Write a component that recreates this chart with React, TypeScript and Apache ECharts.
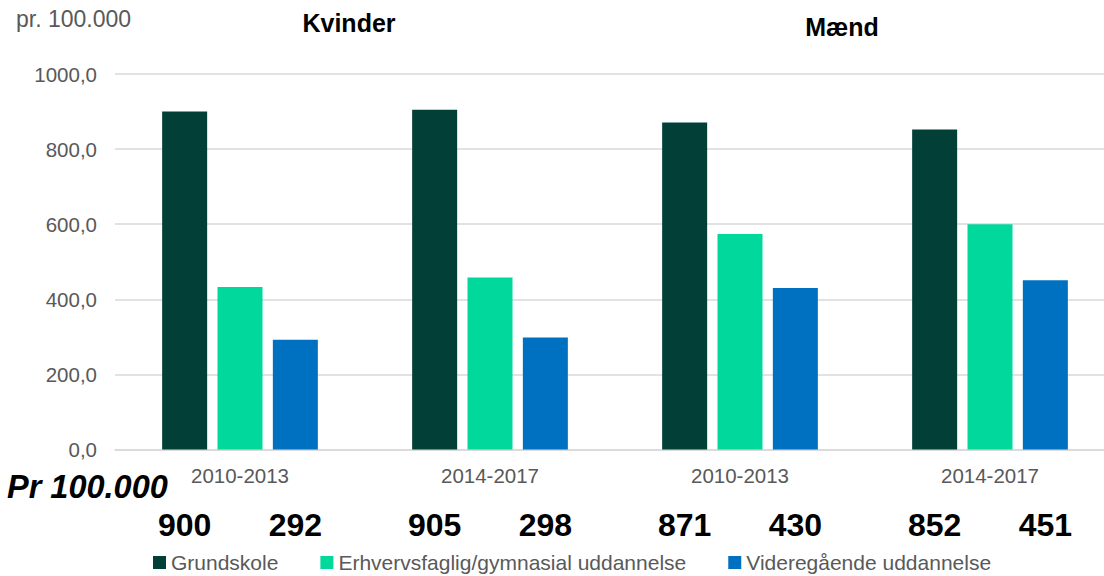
import React, { useEffect, useRef } from "react";
import * as echarts from "echarts";

const categories = ["2010-2013", "2014-2017", "2010-2013", "2014-2017"];
const seriesNames = ["Grundskole", "Erhvervsfaglig/gymnasial uddannelse", "Videregående uddannelse"];
const grundskole = [900, 905, 871, 852];
const erhvervsfaglig = [433, 458, 574, 600];
const videregaaende = [292, 298, 430, 451];
const colors = ["#023F36", "#00D89C", "#0070C0"];
const groupTitles = ["Kvinder", "Mænd"];
const unitTop = "pr. 100.000";
const unitBottom = "Pr 100.000";

const FONT = "'Liberation Sans', Arial, sans-serif";

export default function App() {
  const ref = useRef<HTMLDivElement>(null);
  useEffect(() => {
    if (!ref.current) return;
    const chart = echarts.init(ref.current, null, { renderer: "svg" });
    const numberLabel = {
      show: true,
      position: ["50%", "100%"],
      offset: [0, 75.5],
      align: "center",
      verticalAlign: "middle",
      fontFamily: FONT,
      fontSize: 32,
      fontWeight: "bold",
      color: "#000000",
      formatter: (p: any) => String(Math.round(p.value)),
    };
    const mk = (name: string, data: number[], color: string, withLabel: boolean) => ({
      name,
      type: "bar",
      data,
      barWidth: 45,
      barGap: "23%",
      itemStyle: { color },
      label: withLabel ? numberLabel : { show: false },
    });
    chart.setOption({
      animation: false,
      textStyle: { fontFamily: FONT },
      grid: { left: 115, top: 74, width: 1000, height: 375.5 },
      xAxis: {
        type: "category",
        data: categories,
        axisLine: { lineStyle: { color: "#D9D9D9", width: 1.5 } },
        axisTick: { show: false },
        axisLabel: { color: "#595959", fontSize: 20.5, margin: 15, fontFamily: FONT },
      },
      yAxis: {
        type: "value",
        min: 0,
        max: 1000,
        interval: 200,
        axisLine: { show: false },
        axisTick: { show: false },
        splitLine: { lineStyle: { color: "#D9D9D9", width: 1.5 } },
        axisLabel: {
          color: "#595959",
          fontSize: 20.5,
          margin: 18,
          fontFamily: FONT,
          formatter: (v: number) => v.toFixed(1).replace(".", ","),
        },
      },
      legend: {
        left: 153,
        top: 552,
        padding: 0,
        itemWidth: 13,
        itemHeight: 13,
        itemGap: 42,
        icon: "rect",
        textStyle: { color: "#595959", fontSize: 21, fontFamily: FONT },
        data: seriesNames,
      },
      graphic: [
        {
          type: "text",
          left: 16,
          top: 7,
          style: { text: unitTop, fill: "#595959", fontSize: 23, fontFamily: FONT },
        },
        {
          type: "text",
          x: 349,
          y: 23,
          style: {
            text: groupTitles[0],
            fill: "#000",
            fontSize: 25,
            fontWeight: "bold",
            fontFamily: FONT,
            textAlign: "center",
            textVerticalAlign: "middle",
          },
        },
        {
          type: "text",
          x: 842,
          y: 27,
          style: {
            text: groupTitles[1],
            fill: "#000",
            fontSize: 25,
            fontWeight: "bold",
            fontFamily: FONT,
            textAlign: "center",
            textVerticalAlign: "middle",
          },
        },
        {
          type: "text",
          x: 7,
          y: 487,
          style: {
            text: unitBottom,
            fill: "#000",
            fontSize: 32.5,
            fontWeight: "bold",
            fontStyle: "italic",
            fontFamily: FONT,
            textAlign: "left",
            textVerticalAlign: "middle",
          },
        },
      ],
      series: [
        mk(seriesNames[0], grundskole, colors[0], true),
        mk(seriesNames[1], erhvervsfaglig, colors[1], false),
        mk(seriesNames[2], videregaaende, colors[2], true),
      ],
    });
    return () => chart.dispose();
  }, []);
  return (
    <div
      style={{
        position: "fixed",
        left: 0,
        top: 0,
        width: 1104,
        height: 576,
        overflow: "hidden",
        background: "#fff",
      }}
    >
      <div ref={ref} style={{ width: 1120, height: 576 }} />
    </div>
  );
}
